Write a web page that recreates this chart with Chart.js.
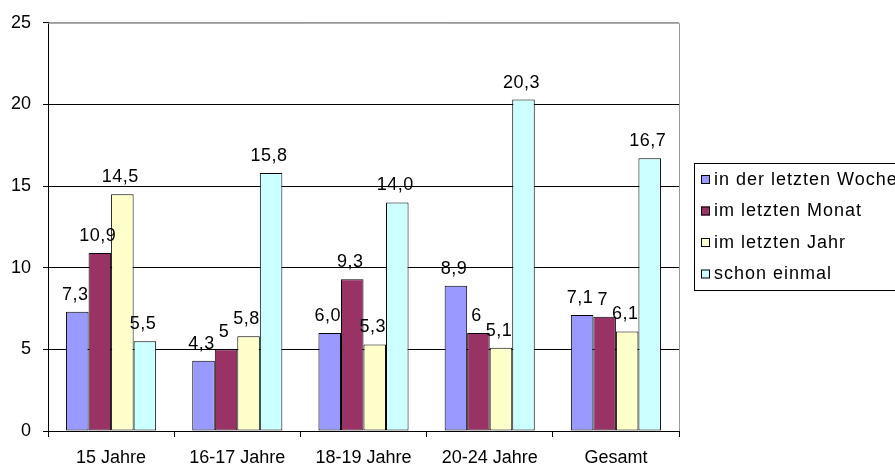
<!DOCTYPE html>
<html>
<head>
<meta charset="utf-8">
<script src="https://cdn.jsdelivr.net/npm/chart.js@4"></script>
<style>
  body { margin: 0; background: #fff; }
  #wrap { width: 895px; height: 470px; }
</style>
</head>
<body>
<div id="wrap"><canvas id="chart" width="895" height="470"></canvas></div>
<script>
const categories = ['15 Jahre', '16-17 Jahre', '18-19 Jahre', '20-24 Jahre', 'Gesamt'];
const seriesNames = ['in der letzten Woche', 'im letzten Monat', 'im letzten Jahr', 'schon einmal'];
const lastWeek = [7.3, 4.3, 6.0, 8.9, 7.1];
const lastMonth = [10.9, 5, 9.3, 6, 7];
const lastYear = [14.5, 5.8, 5.3, 5.1, 6.1];
const everOnce = [5.5, 15.8, 14.0, 20.3, 16.7];
// labels as printed above the bars (some without decimals)
const lastWeekLabels = ['7,3', '4,3', '6,0', '8,9', '7,1'];
const lastMonthLabels = ['10,9', '5', '9,3', '6', '7'];
const lastYearLabels = ['14,5', '5,8', '5,3', '5,1', '6,1'];
const everOnceLabels = ['5,5', '15,8', '14,0', '20,3', '16,7'];
const yTicks = [0, 5, 10, 15, 20, 25];

const colors = ['#9999FF', '#993366', '#FFFFCC', '#CCFFFF'];
const FONT = '"Liberation Sans", Arial, sans-serif';

const values = [lastWeek, lastMonth, lastYear, everOnce];
const labelTexts = [lastWeekLabels, lastMonthLabels, lastYearLabels, everOnceLabels];

const datasets = seriesNames.map((name, i) => ({
    label: name,
    data: values[i],
    valueLabels: labelTexts[i],
    backgroundColor: colors[i],
    borderColor: '#000',
    borderWidth: 1,
    borderSkipped: false,
    categoryPercentage: 0.714,
    barPercentage: 1
}));

// value labels above each bar
const barLabels = {
    id: 'barLabels',
    afterDatasetsDraw(chart) {
        const ctx = chart.ctx;
        ctx.save();
        ctx.font = '18px ' + FONT;
        ctx.letterSpacing = '0.5px';
        ctx.fillStyle = '#000';
        ctx.textAlign = 'center';
        ctx.textBaseline = 'alphabetic';
        chart.data.datasets.forEach((ds, i) => {
            chart.getDatasetMeta(i).data.forEach((bar, j) => {
                ctx.fillText(ds.valueLabels[j], bar.x - 2, bar.y - 12);
            });
        });
        ctx.restore();
    }
};

// grey frame on top/right of the plot area plus the legend box
const frameAndLegend = {
    id: 'frameAndLegend',
    afterDraw(chart) {
        const ctx = chart.ctx;
        const a = chart.chartArea;
        ctx.save();
        ctx.strokeStyle = '#999';
        ctx.lineWidth = 1;
        ctx.beginPath();
        ctx.moveTo(a.left, a.top + 0.5);
        ctx.lineTo(a.right + 0.5, a.top + 0.5);
        ctx.lineTo(a.right + 0.5, a.bottom);
        ctx.stroke();

        const lx = 694, ly = 163, lw = 260, lh = 127;
        ctx.strokeStyle = '#000';
        ctx.strokeRect(lx + 0.5, ly + 0.5, lw, lh);
        ctx.font = '18px ' + FONT;
        ctx.letterSpacing = '1px';
        ctx.textBaseline = 'middle';
        ctx.textAlign = 'left';
        chart.data.datasets.forEach((ds, i) => {
            const cy = 179 + i * 31.5;
            ctx.fillStyle = ds.backgroundColor;
            ctx.fillRect(701, cy - 4, 9, 9);
            ctx.strokeStyle = '#000';
            ctx.strokeRect(701.5, cy - 3.5, 8, 8);
            ctx.fillStyle = '#000';
            ctx.fillText(ds.label, 714, cy + 1);
        });
        ctx.restore();
    }
};

new Chart(document.getElementById('chart'), {
    type: 'bar',
    data: { labels: categories, datasets: datasets },
    options: {
        responsive: false,
        animation: false,
        layout: { padding: { top: 19, right: 216, left: 0, bottom: 0 } },
        plugins: {
            legend: { display: false },
            tooltip: { enabled: false }
        },
        scales: {
            x: {
                grid: {
                    offset: true,
                    drawOnChartArea: false,
                    drawTicks: true,
                    tickLength: 6,
                    color: '#000'
                },
                border: { color: '#000', width: 1 },
                ticks: { color: '#000', font: { family: FONT, size: 18 }, padding: 10 },
                afterFit(scale) { scale.height = 39; }
            },
            y: {
                min: 0,
                max: 25,
                afterBuildTicks(scale) { scale.ticks = yTicks.map(v => ({ value: v })); },
                grid: {
                    color: ctx => (ctx.tick && ctx.tick.value === 25 ? '#999' : '#000'),
                    tickLength: 5,
                    tickColor: '#000'
                },
                border: { color: '#000', width: 1 },
                ticks: { color: '#000', font: { family: FONT, size: 18 }, padding: 12 },
                afterFit(scale) { scale.width = 48; }
            }
        }
    },
    plugins: [barLabels, frameAndLegend]
});
</script>
</body>
</html>
